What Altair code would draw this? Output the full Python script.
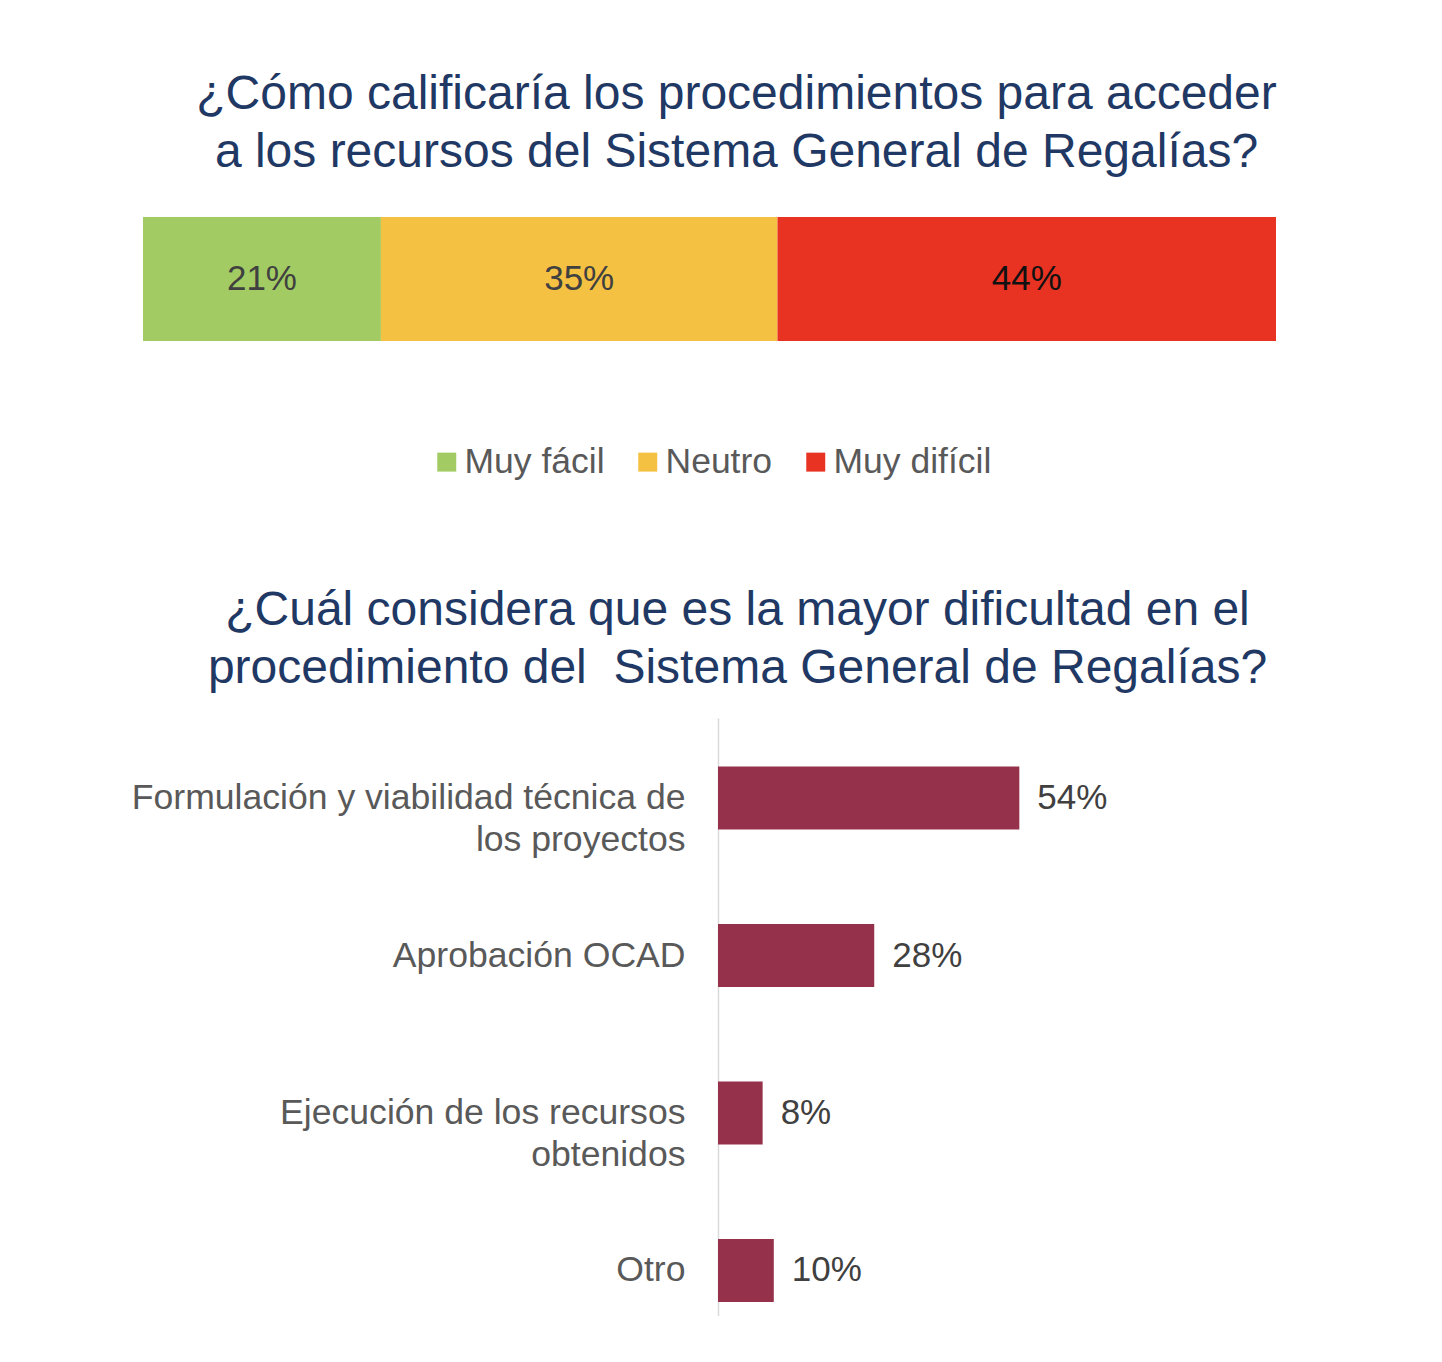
import altair as alt
import pandas as pd

FONT = "Liberation Sans"

# Top chart data
rating_cats = ["Muy fácil", "Neutro", "Muy difícil"]
rating_vals = [21, 35, 44]
rating_colors = ["#A2CC63", "#F4C142", "#E83323"]

# Bottom chart data
diff_cats = [
    "Formulación y viabilidad técnica de\nlos proyectos",
    "Aprobación OCAD",
    "Ejecución de los recursos\nobtenidos",
    "Otro",
]
diff_vals = [54, 28, 8, 10]

top_df = pd.DataFrame({"cat": rating_cats, "value": rating_vals,
                       "ord": list(range(len(rating_cats))), "q": "q"})
bot_df = pd.DataFrame({"cat": diff_cats, "value": diff_vals})

W = 1133
TOP_H = 124

base_top = alt.Chart(top_df).transform_window(
    cum="sum(value)", sort=[alt.SortField("ord")]
).transform_calculate(
    mid="datum.cum - datum.value / 2",
    lbl="datum.value + '%'",
)

top_bars = base_top.mark_bar().encode(
    x=alt.X("value:Q", stack="zero", axis=None, scale=alt.Scale(domain=[0, 100], nice=False)),
    y=alt.Y("q:N", axis=None, scale=alt.Scale(paddingInner=0, paddingOuter=0)),
    color=alt.Color(
        "cat:N",
        scale=alt.Scale(domain=rating_cats, range=rating_colors),
        sort=rating_cats,
        legend=alt.Legend(
            title=None, orient="none", direction="horizontal",
            legendX=286, legendY=227,
            symbolType="square", symbolSize=360, symbolStrokeWidth=0,
            labelFont=FONT, labelFontSize=35.5, labelColor="#595959",
            columnPadding=25, labelOffset=0,
        ),
    ),
    order=alt.Order("ord:Q"),
)

top_text = base_top.mark_text(font=FONT, fontSize=35).encode(
    x=alt.X("mid:Q"),
    y=alt.Y("q:N"),
    text="lbl:N",
    color=alt.condition("datum.cat == 'Muy difícil'", alt.value("#111111"), alt.value("#404040")),
)

top = alt.layer(top_bars, top_text).properties(
    width=W, height=TOP_H,
    title=alt.TitleParams(
        ["¿Cómo calificaría los procedimientos para acceder",
         "a los recursos del Sistema General de Regalías?"],
        font=FONT, fontSize=48, fontWeight="normal", color="#1F3864",
        lineHeight=58, anchor="middle", frame="group", dx=27, offset=40,
    ),
)

BOT_H = 598
BAR_START = 575  # pixel offset of the zero line inside the bottom panel

bot_base = alt.Chart(bot_df).transform_calculate(lbl="datum.value + '%'")

y_enc = alt.Y(
    "cat:N", sort=diff_cats, title=None,
    scale=alt.Scale(paddingInner=0.6, paddingOuter=0.1985, align=0.776),
    axis=alt.Axis(
        domain=True, domainColor="#D9D9D9", domainWidth=1.5,
        ticks=False, grid=False, offset=-BAR_START,
        labelFont=FONT, labelFontSize=35.6, labelColor="#595959",
        labelPadding=33, labelLineHeight=42, labelLimit=800,
        labelExpr="split(datum.label, '\\n')",
    ),
)

x_scale = alt.Scale(domain=[0, 100], range=[BAR_START, W], nice=False)

bot_bars = bot_base.mark_bar(color="#95314A").encode(
    x=alt.X("value:Q", axis=None, scale=x_scale),
    y=y_enc,
)

bot_text = bot_base.mark_text(font=FONT, fontSize=35, align="left", dx=18, color="#404040").encode(
    x=alt.X("value:Q"),
    y=alt.Y("cat:N", sort=diff_cats),
    text="lbl:N",
)

bottom = alt.layer(bot_bars, bot_text).properties(
    width=W, height=BOT_H,
    title=alt.TitleParams(
        ["¿Cuál considera que es la mayor dificultad en el",
         "procedimiento del\u00a0 Sistema General de Regalías?"],
        font=FONT, fontSize=48, fontWeight="normal", color="#1F3864",
        lineHeight=58, anchor="middle", frame="group", dx=28, offset=25,
    ),
)

chart = alt.concat(top, bottom, columns=1, spacing=106).resolve_scale(
    color="independent"
).resolve_legend(color="independent").properties(
    padding={"left": 123, "top": 63, "right": 5, "bottom": 0},
).configure(background="white").configure_view(stroke=None)

chart.save("out.html", embed_options={"renderer": "svg", "actions": False})
